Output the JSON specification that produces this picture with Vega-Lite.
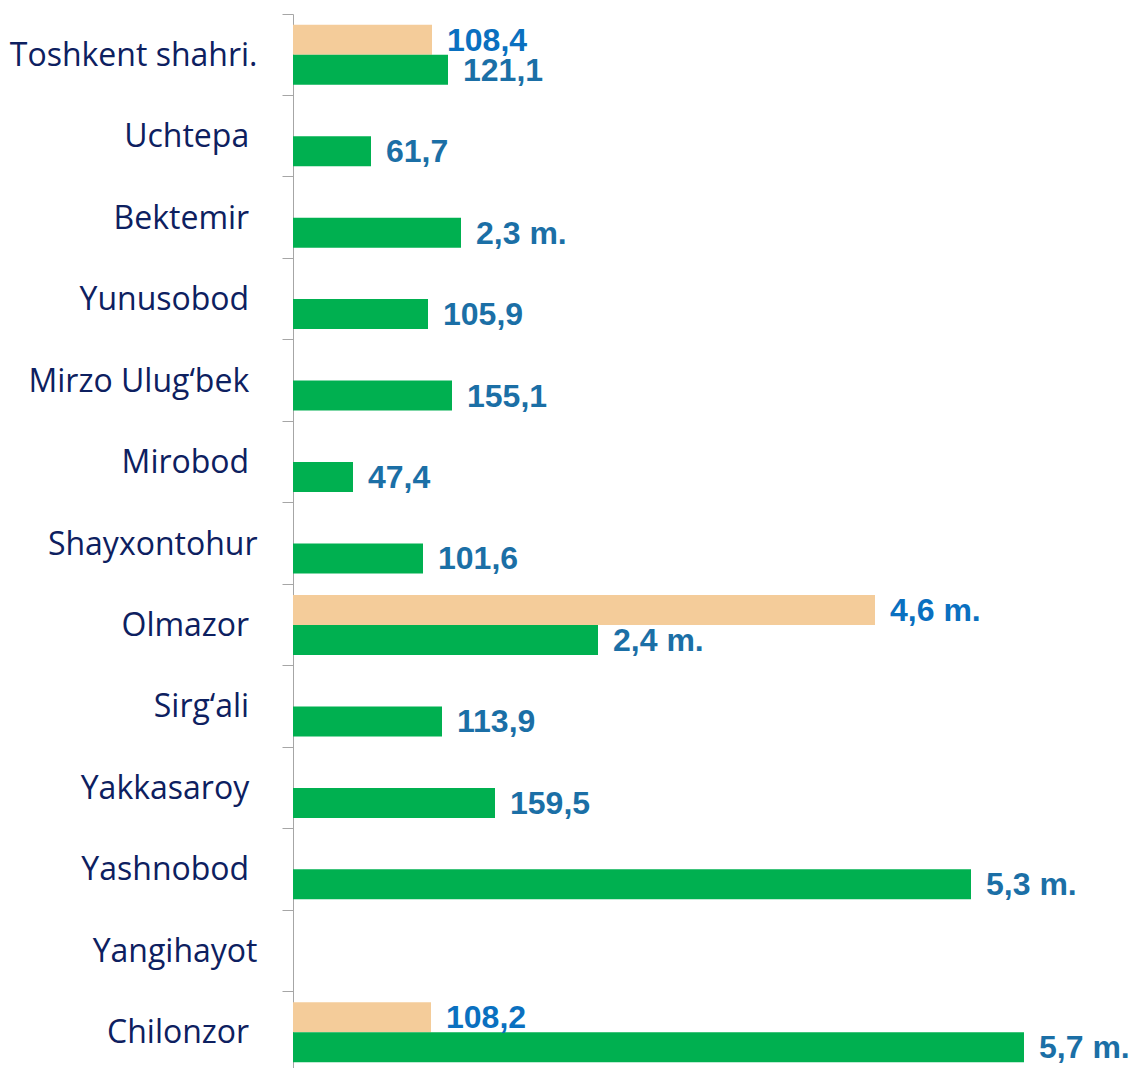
{
  "$schema": "https://vega.github.io/schema/vega-lite/v6.json",
  "autosize": {"type": "none"},
  "padding": {"left": 293, "top": 14, "right": 0, "bottom": 0},
  "width": 837,
  "height": 1059,
  "background": "white",
  "config": {"view": {"stroke": null}},
  "data": {
    "values": [
      {"region": "Toshkent shahri.", "series": "A", "len": 139, "label": "108,4"},
      {"region": "Toshkent shahri.", "series": "B", "len": 155, "label": "121,1"},
      {"region": "Uchtepa", "series": "B", "len": 78, "label": "61,7"},
      {"region": "Bektemir", "series": "B", "len": 168, "label": "2,3 m."},
      {"region": "Yunusobod", "series": "B", "len": 135, "label": "105,9"},
      {"region": "Mirzo Ulug‘bek", "series": "B", "len": 159, "label": "155,1"},
      {"region": "Mirobod", "series": "B", "len": 60, "label": "47,4"},
      {"region": "Shayxontohur", "series": "B", "len": 130, "label": "101,6"},
      {"region": "Olmazor", "series": "A", "len": 582, "label": "4,6 m."},
      {"region": "Olmazor", "series": "B", "len": 305, "label": "2,4 m."},
      {"region": "Sirg‘ali", "series": "B", "len": 149, "label": "113,9"},
      {"region": "Yakkasaroy", "series": "B", "len": 202, "label": "159,5"},
      {"region": "Yashnobod", "series": "B", "len": 678, "label": "5,3 m."},
      {"region": "Chilonzor", "series": "A", "len": 138, "label": "108,2"},
      {"region": "Chilonzor", "series": "B", "len": 731, "label": "5,7 m."}
    ]
  },
  "encoding": {
    "y": {
      "field": "region",
      "type": "nominal",
      "title": null,
      "scale": {
        "domain": ["Toshkent shahri.", "Uchtepa", "Bektemir", "Yunusobod", "Mirzo Ulug‘bek", "Mirobod", "Shayxontohur", "Olmazor", "Sirg‘ali", "Yakkasaroy", "Yashnobod", "Yangihayot", "Chilonzor"],
        "paddingInner": 0,
        "paddingOuter": 0
      },
      "axis": {
        "bandPosition": 0,
        "labelOffset": 1,
        "domainColor": "#A6A6A6",
        "tickColor": "#A6A6A6",
        "tickSize": 11,
        "labelPadding": 25,
        "labelFont": "Open Sans",
        "labelFontSize": 32,
        "labelColor": "#0D2060",
        "labelLimit": 400,
        "grid": false,
        "labelExpr": "indexof(['Toshkent shahri.', 'Shayxontohur', 'Yangihayot'], datum.value) >= 0 ? datum.label : datum.label + '\u00a0\u200b'"
      }
    },
    "yOffset": {
      "field": "series",
      "type": "nominal",
      "scale": {"domain": ["A", "B"], "paddingInner": 0, "paddingOuter": 0.358}
    },
    "x": {
      "field": "len",
      "type": "quantitative",
      "scale": {"domain": [0, 837], "nice": false, "zero": true},
      "axis": null
    }
  },
  "layer": [
    {
      "mark": {"type": "bar"},
      "encoding": {
        "color": {
          "field": "series",
          "type": "nominal",
          "scale": {"domain": ["A", "B"], "range": ["#F4CC9A", "#00B050"]},
          "legend": null
        }
      }
    },
    {
      "mark": {
        "type": "text",
        "align": "left",
        "baseline": "middle",
        "dx": 15,
        "dy": 1,
        "font": "Liberation Sans",
        "fontWeight": "bold",
        "fontSize": 32
      },
      "encoding": {
        "text": {"field": "label"},
        "color": {
          "condition": {"test": "datum.series === 'A'", "value": "#0A70C0"},
          "value": "#1B6FA6"
        }
      }
    }
  ]
}
